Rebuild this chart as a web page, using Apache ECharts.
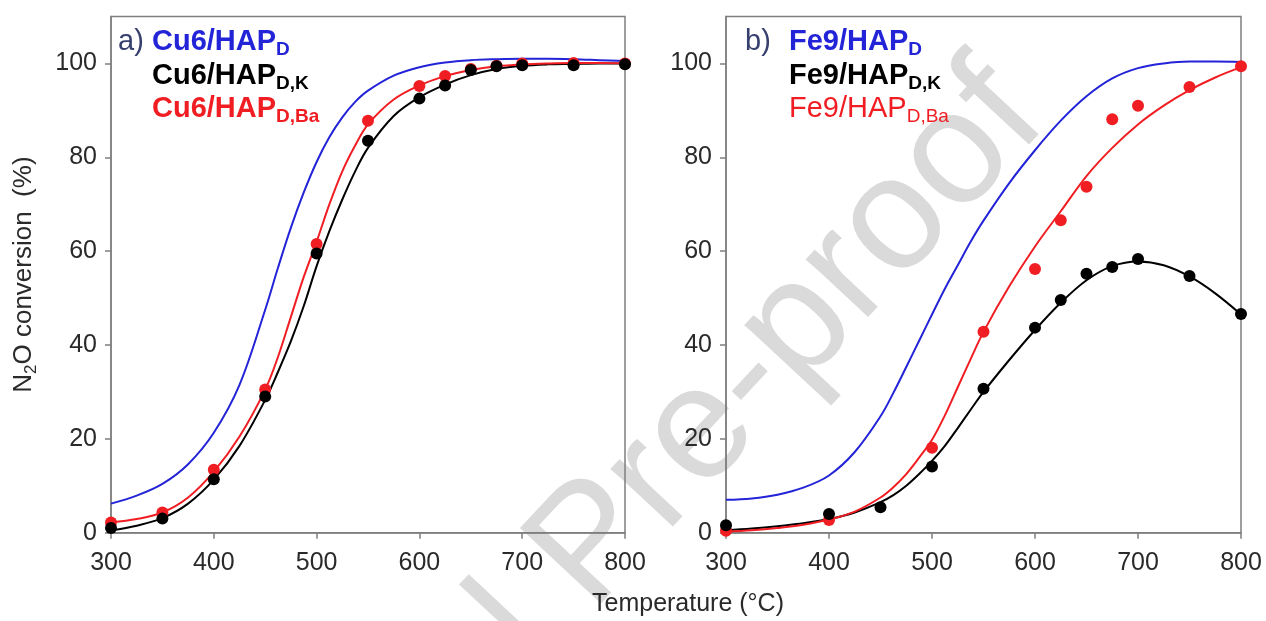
<!DOCTYPE html>
<html><head><meta charset="utf-8">
<script src="https://cdn.jsdelivr.net/npm/echarts@6.0.0/dist/echarts.min.js"></script>
<style>html,body{margin:0;padding:0;background:#fff}#c{width:1266px;height:621px}</style>
</head><body><div id="c"></div>
<script>
// ---- data ----
const xTicks = [300, 400, 500, 600, 700, 800];
const yTicks = [0, 20, 40, 60, 80, 100];

// temperatures at which the fitted curves were read
const curveT = [300, 325, 350, 375, 400, 425, 450, 462.5, 475, 487.5, 500, 512.5, 525, 537.5, 550, 575, 600, 625, 650, 675, 700, 725, 750, 775, 800];

// panel a) Cu6 curves
const cuD_curve  = [6.2, 7.9, 10.4, 14.6, 21.3, 31.5, 47.5, 56.5, 65, 72.5, 79, 84.3, 88.5, 91.8, 94.2, 97.4, 99.2, 100.2, 100.7, 100.9, 101, 101, 100.9, 100.7, 100.5];
const cuK_curve  = [0.5, 1.5, 3.1, 6.2, 11.3, 18.5, 28.3, 34.3, 40.8, 48.3, 56.8, 64.3, 71, 77, 82, 88.8, 92.8, 95.5, 97.5, 98.8, 99.5, 99.8, 99.9, 100, 100];
const cuBa_curve = [2.2, 2.9, 4.3, 7.5, 13, 20.5, 30.5, 37.5, 46, 54.5, 62, 70, 77, 82.5, 87, 92.3, 95.3, 97.3, 98.6, 99.4, 99.8, 100, 100.1, 100.1, 100];

// panel a) measured points
const cuPointT   = [300, 350, 400, 450, 500, 550, 600, 625, 650, 675, 700, 750, 800];
const cuK_pts    = [1.0, 3.0, 11.4, 29.0, 59.5, 83.5, 92.5, 95.3, 98.6, 99.4, 99.6, 99.6, 99.8];
const cuBa_pts   = [2.2, 4.3, 13.4, 30.5, 61.5, 87.8, 95.2, 97.3, 98.8, 99.5, 100, 100.1, 100];

// panel b) Fe9 curves
const feD_curve  = [7, 7.3, 8.1, 9.6, 12.2, 17.2, 24.8, 29.8, 35.3, 40.9, 46.5, 52, 57, 62, 66.5, 74.5, 81.5, 87.8, 93, 96.8, 99, 100, 100.4, 100.4, 100.3];
const feK_curve  = [0.5, 0.9, 1.4, 2, 2.9, 4.3, 6.5, 8, 10, 12.5, 15.3, 18.5, 22.3, 26.2, 30, 36.8, 43.2, 49, 53.8, 56.8, 57.8, 57, 54.6, 51, 46.5];
const feBa_curve = [0.2, 0.5, 1, 1.7, 2.8, 4.5, 7.5, 9.7, 12.5, 16, 19.8, 25, 31, 37, 42.8, 52.5, 61, 68.5, 76, 82, 87, 91, 94.3, 97, 99.2];

// panel b) measured points
const feK_T   = [300, 400, 450, 500, 550, 600, 625, 650, 675, 700, 750, 800];
const feK_pts = [1.6, 4.0, 5.4, 14.1, 30.7, 43.7, 49.6, 55.2, 56.6, 58.3, 54.7, 46.6];
const feBa_T   = [300, 400, 500, 550, 600, 625, 650, 675, 700, 750, 800];
const feBa_pts = [0.4, 2.7, 18.1, 42.8, 56.2, 66.6, 73.7, 88.1, 91.0, 95.0, 99.4];

// ---- styles ----
const FONT = "'Liberation Sans', Arial, sans-serif";
const BLUE = '#2323d8', RED = '#f01e23', BLACK = '#000000';
const AXIS = '#7f7f7f', TXT = '#2a2a2a';

function zip(xs, ys) { return xs.map((x, i) => [x, ys[i]]); }
function curve(name, idx, vals, color) {
  return { type: 'line', name, xAxisIndex: idx, yAxisIndex: idx, data: zip(curveT, vals),
    smooth: 0.35, showSymbol: false, symbol: 'none', lineStyle: { color, width: 2 }, z: 3, silent: true };
}
function pts(name, idx, xs, ys, color, z) {
  return { type: 'scatter', name, xAxisIndex: idx, yAxisIndex: idx, data: zip(xs, ys),
    symbolSize: 12, itemStyle: { color, opacity: 1 }, z, silent: true };
}
function xAx(gi) {
  return { type: 'value', gridIndex: gi, min: 300, max: 800, interval: 100,
    axisLine: { onZero: false, lineStyle: { color: AXIS, width: 1.5 } },
    axisTick: { show: true, length: 6, lineStyle: { color: AXIS, width: 1.5 }, customValues: xTicks },
    axisLabel: { fontSize: 25, fontFamily: FONT, color: TXT, margin: 18, customValues: xTicks },
    splitLine: { show: false } };
}
function yAx(gi, withName) {
  const a = { type: 'value', gridIndex: gi, min: 0, max: 110, interval: 10,
    axisLine: { lineStyle: { color: AXIS, width: 1.5 } },
    axisTick: { show: true, length: 6, lineStyle: { color: AXIS, width: 1.5 }, customValues: yTicks },
    axisLabel: { fontSize: 25, fontFamily: FONT, color: TXT, margin: 14, customValues: yTicks,
      formatter: v => (yTicks.indexOf(v) >= 0 ? String(v) : '') },
    splitLine: { show: false } };
  if (withName) {
    a.name = '{n|N}{s|2}{n|O conversion  (%)}';
    a.nameLocation = 'middle';
    a.nameRotate = 90;
    a.nameGap = 71;
    a.nameTextStyle = { rich: {
      n: { fontSize: 26, fontFamily: FONT, color: TXT, lineHeight: 32 },
      s: { fontSize: 17, fontFamily: FONT, color: TXT, lineHeight: 14, verticalAlign: 'bottom' } } };
  }
  return a;
}
function legendText(x, y, main, sub, color, bold) {
  const w = bold ? 'bold' : 'normal';
  return { type: 'text', x, y, z: 10, silent: true,
    style: { text: '{m|' + main + '}{s|' + sub + '}', verticalAlign: 'middle', align: 'left',
      rich: {
        m: { fontSize: 29, fontWeight: w, fontFamily: FONT, fill: color, color: color, lineHeight: 34 },
        s: { fontSize: 19, fontWeight: w, fontFamily: FONT, fill: color, color: color, lineHeight: 15, verticalAlign: 'bottom' } } } };
}
function plainText(x, y, text, color, size, align) {
  return { type: 'text', x, y, z: 10, silent: true,
    style: { text, fill: color, font: size + 'px ' + FONT, align: align || 'left', verticalAlign: 'middle' } };
}

const chart = echarts.init(document.getElementById('c'), null, { renderer: 'canvas' });
chart.setOption({
  animation: false,
  backgroundColor: '#ffffff',
  grid: [
    { left: 111, right: 641, top: 16.5, bottom: 88.3, show: true, borderColor: AXIS, borderWidth: 1.5, backgroundColor: 'transparent' },
    { left: 726, right: 25, top: 16.5, bottom: 88.3, show: true, borderColor: AXIS, borderWidth: 1.5, backgroundColor: 'transparent' }
  ],
  xAxis: [xAx(0), xAx(1)],
  yAxis: [yAx(0, true), yAx(1, false)],
  series: [
    curve('Cu6/HAPD', 0, cuD_curve, BLUE),
    curve('Cu6/HAPD,K', 0, cuK_curve, BLACK),
    curve('Cu6/HAPD,Ba', 0, cuBa_curve, RED),
    pts('Cu6/HAPD,Ba pts', 0, cuPointT, cuBa_pts, RED, 4),
    pts('Cu6/HAPD,K pts', 0, cuPointT, cuK_pts, BLACK, 5),
    curve('Fe9/HAPD', 1, feD_curve, BLUE),
    curve('Fe9/HAPD,K', 1, feK_curve, BLACK),
    curve('Fe9/HAPD,Ba', 1, feBa_curve, RED),
    pts('Fe9/HAPD,Ba pts', 1, feBa_T, feBa_pts, RED, 4),
    pts('Fe9/HAPD,K pts', 1, feK_T, feK_pts, BLACK, 5)
  ],
  graphic: [
    { type: 'text', x: 593, y: 547, rotation: 47 * Math.PI / 180, z: -10, silent: true,
      style: { text: 'Journal Pre-proof', fill: '#dadada', font: '161px ' + FONT, align: 'center', verticalAlign: 'middle' } },
    plainText(118, 42, 'a)', '#36406e', 29),
    legendText(152, 42, 'Cu6/HAP', 'D', BLUE, true),
    legendText(152, 76, 'Cu6/HAP', 'D,K', BLACK, true),
    legendText(152, 109, 'Cu6/HAP', 'D,Ba', RED, true),
    plainText(745, 42, 'b)', '#36406e', 29),
    legendText(789, 42, 'Fe9/HAP', 'D', BLUE, true),
    legendText(789, 76, 'Fe9/HAP', 'D,K', BLACK, true),
    legendText(789, 109, 'Fe9/HAP', 'D,Ba', RED, false),
    plainText(688, 604, 'Temperature (°C)', TXT, 25, 'center')
  ]
});
</script>
</body></html>
